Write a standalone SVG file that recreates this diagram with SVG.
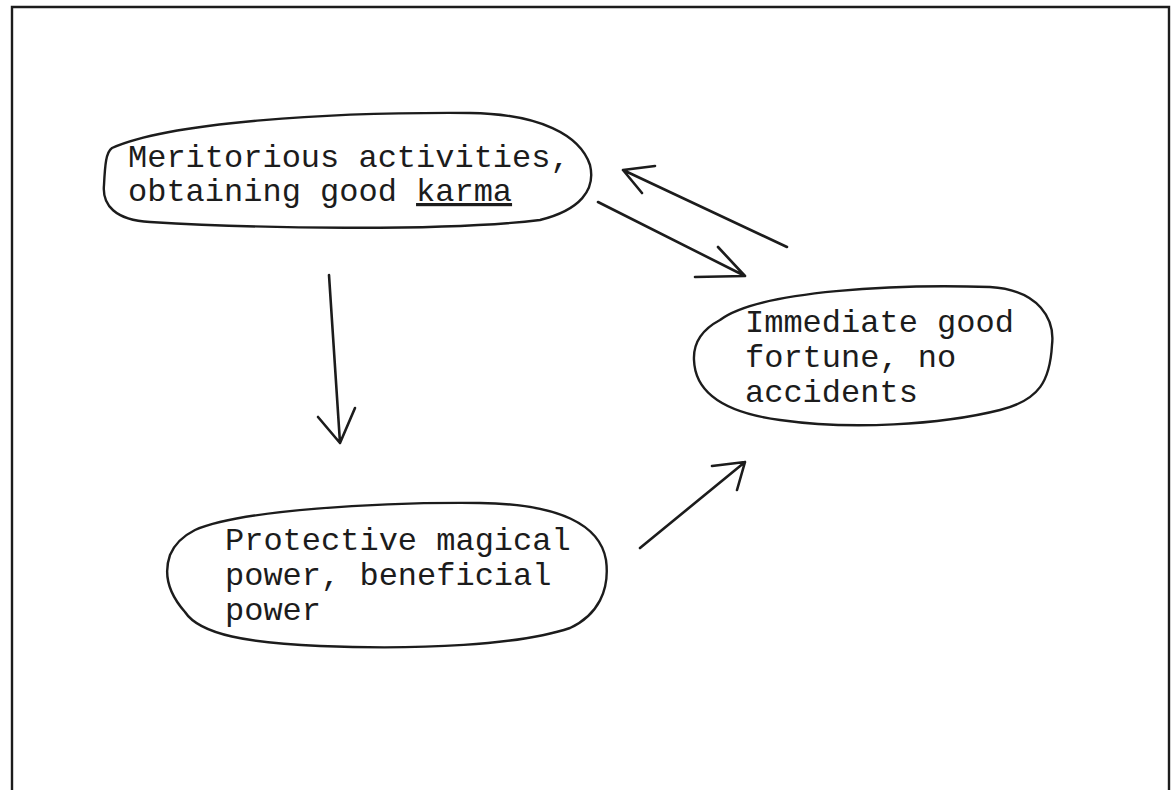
<svg xmlns="http://www.w3.org/2000/svg" width="1175" height="790" viewBox="0 0 1175 790">
<style>
.blob{fill:none;stroke:#1c1c1c;stroke-width:2.4;stroke-linejoin:round}
.t{font-family:"Liberation Mono","Courier New",monospace;font-size:32px;fill:#1c1c1c}
.c{fill:none;stroke:#1c1c1c;stroke-width:2.6;stroke-linecap:round;stroke-linejoin:round}
.frame{fill:none;stroke:#1c1c1c;stroke-width:2.4}
</style>
<rect width="1175" height="790" fill="#ffffff"/>
<path class="frame" d="M12,790 L12,7 L1169,7 L1169,790"/>
<g id="node-meritorious">
<path class="blob" d="M112,148 C170,122 330,112 470,113 C540,114 580,135 590,165 C596,190 580,210 540,220 C440,232 250,228 150,222 C115,220 102,205 104,185 C105,165 106,152 112,148 Z"/>
<text class="t" x="128" y="167">Meritorious activities,</text>
<text class="t" x="128" y="201">obtaining good <tspan text-decoration="underline">karma</tspan></text>
</g>
<g id="node-immediate">
<path class="blob" d="M720,320 C760,290 900,284 990,287 C1040,290 1055,320 1052,345 C1050,380 1040,400 1000,410 C940,425 850,430 780,420 C720,412 695,390 694,360 C693,340 705,328 720,320 Z"/>
<text class="t" x="745" y="332">Immediate good</text>
<text class="t" x="745" y="367">fortune, no</text>
<text class="t" x="745" y="402">accidents</text>
</g>
<g id="node-protective">
<path class="blob" d="M195,530 C240,510 380,502 480,503 C560,504 600,525 606,560 C610,590 598,615 570,628 C520,645 420,650 320,646 C250,643 200,635 185,612 C170,595 163,575 170,555 C175,543 183,536 195,530 Z"/>
<text class="t" x="225" y="550">Protective magical</text>
<text class="t" x="225" y="585">power, beneficial</text>
<text class="t" x="225" y="620">power</text>
</g>
<g id="connectors">
<path class="c" d="M329,275 L340,443 M318,417 L340,443 L355,408"/>
<path class="c" d="M640,548 L745,462 M712,466 L745,462 L737,490"/>
<path class="c" d="M787,247 L623,170 M655,166 L623,170 L642,193"/>
<path class="c" d="M598,202 L745,276 M718,247 L745,276 L695,277"/>
</g>
</svg>
